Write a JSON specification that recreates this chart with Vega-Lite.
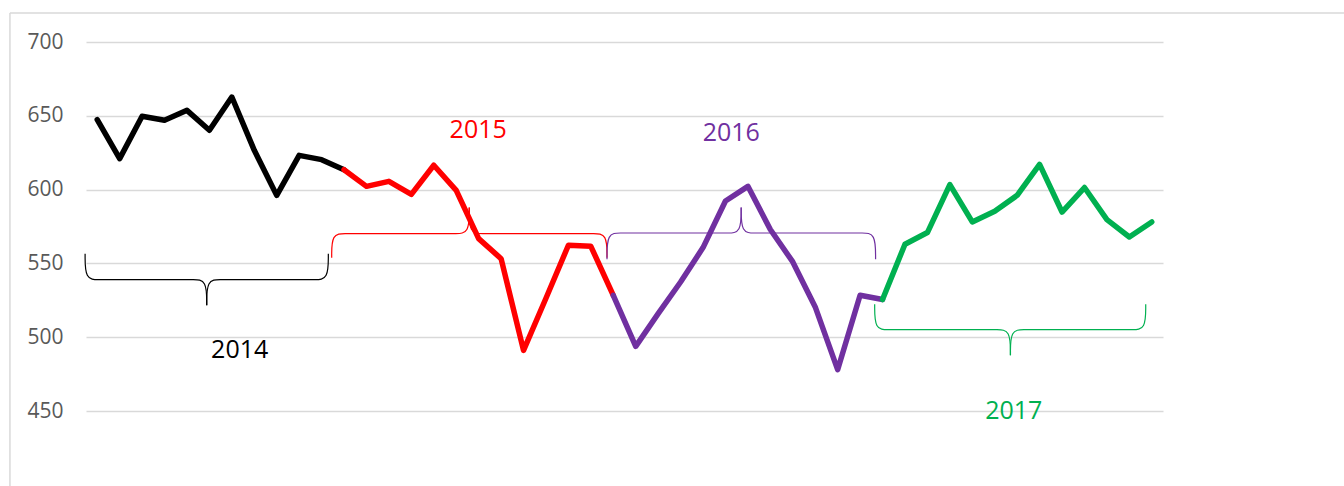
{
  "$schema": "https://vega.github.io/schema/vega-lite/v6.json",
  "width": 1077,
  "height": 369,
  "autosize": "none",
  "padding": {"left": 86, "right": 181, "top": 42, "bottom": 75},
  "background": "#ffffff",
  "config": {"view": {"stroke": null}, "font": "Open Sans"},
  "datasets": {
    "frame": [
      {"i": -3.89, "i2": -3.89, "v": 396, "v2": 719.6},
      {"i": -3.89, "i2": 56, "v": 719.6, "v2": 719.6}
    ],
    "series": [
      {"i": 0, "v": 647.4, "yr": "2014"}, {"i": 1, "v": 621, "yr": "2014"}, {"i": 2, "v": 649.7, "yr": "2014"},
      {"i": 3, "v": 647, "yr": "2014"}, {"i": 4, "v": 653.7, "yr": "2014"}, {"i": 5, "v": 640.2, "yr": "2014"},
      {"i": 6, "v": 662.7, "yr": "2014"}, {"i": 7, "v": 626.6, "yr": "2014"}, {"i": 8, "v": 596.1, "yr": "2014"},
      {"i": 9, "v": 623.2, "yr": "2014"}, {"i": 10, "v": 620.3, "yr": "2014"}, {"i": 11, "v": 613.5, "yr": "2014"},
      {"i": 11, "v": 613.5, "yr": "2015"}, {"i": 12, "v": 602.2, "yr": "2015"}, {"i": 13, "v": 605.6, "yr": "2015"},
      {"i": 14, "v": 596.8, "yr": "2015"}, {"i": 15, "v": 616.5, "yr": "2015"}, {"i": 16, "v": 599.5, "yr": "2015"},
      {"i": 17, "v": 566.8, "yr": "2015"}, {"i": 18, "v": 553.2, "yr": "2015"}, {"i": 19, "v": 491.1, "yr": "2015"},
      {"i": 20, "v": 526.4, "yr": "2015"}, {"i": 21, "v": 562.3, "yr": "2015"}, {"i": 22, "v": 561.6, "yr": "2015"},
      {"i": 23, "v": 528.4, "yr": "2015"},
      {"i": 23, "v": 528.4, "yr": "2016"}, {"i": 24, "v": 493.8, "yr": "2016"}, {"i": 25, "v": 516, "yr": "2016"},
      {"i": 26, "v": 537.4, "yr": "2016"}, {"i": 27, "v": 560.7, "yr": "2016"}, {"i": 28, "v": 592.3, "yr": "2016"},
      {"i": 29, "v": 602.2, "yr": "2016"}, {"i": 30, "v": 573, "yr": "2016"}, {"i": 31, "v": 551, "yr": "2016"},
      {"i": 32, "v": 520.5, "yr": "2016"}, {"i": 33, "v": 478, "yr": "2016"}, {"i": 34, "v": 528.4, "yr": "2016"},
      {"i": 35, "v": 525.5, "yr": "2016"},
      {"i": 35, "v": 525.5, "yr": "2017"}, {"i": 36, "v": 563, "yr": "2017"}, {"i": 37, "v": 570.9, "yr": "2017"},
      {"i": 38, "v": 603.4, "yr": "2017"}, {"i": 39, "v": 578.1, "yr": "2017"}, {"i": 40, "v": 585.3, "yr": "2017"},
      {"i": 41, "v": 596.1, "yr": "2017"}, {"i": 42, "v": 617.1, "yr": "2017"}, {"i": 43, "v": 584.8, "yr": "2017"},
      {"i": 44, "v": 601.4, "yr": "2017"}, {"i": 45, "v": 579.7, "yr": "2017"}, {"i": 46, "v": 567.9, "yr": "2017"},
      {"i": 47, "v": 578.1, "yr": "2017"}
    ],
    "braces": [
      {"h": "14L", "yr": "2014", "k": 0, "i": -0.54, "v": 556.6}, {"h": "14L", "yr": "2014", "k": 1, "i": -0.54, "v": 539},
      {"h": "14L", "yr": "2014", "k": 2, "i": 0.06, "v": 539}, {"h": "14L", "yr": "2014", "k": 3, "i": 0.66, "v": 539},
      {"h": "14L", "yr": "2014", "k": 4, "i": 3.68, "v": 539}, {"h": "14L", "yr": "2014", "k": 5, "i": 4.28, "v": 539},
      {"h": "14L", "yr": "2014", "k": 6, "i": 4.88, "v": 539}, {"h": "14L", "yr": "2014", "k": 7, "i": 4.88, "v": 521.6},
      {"h": "14R", "yr": "2014", "k": 0, "i": 10.3, "v": 556.6}, {"h": "14R", "yr": "2014", "k": 1, "i": 10.3, "v": 539},
      {"h": "14R", "yr": "2014", "k": 2, "i": 9.7, "v": 539}, {"h": "14R", "yr": "2014", "k": 3, "i": 9.1, "v": 539},
      {"h": "14R", "yr": "2014", "k": 4, "i": 6.08, "v": 539}, {"h": "14R", "yr": "2014", "k": 5, "i": 5.48, "v": 539},
      {"h": "14R", "yr": "2014", "k": 6, "i": 4.88, "v": 539}, {"h": "14R", "yr": "2014", "k": 7, "i": 4.88, "v": 521.6},
      {"h": "15L", "yr": "2015", "k": 0, "i": 10.45, "v": 553.9}, {"h": "15L", "yr": "2015", "k": 1, "i": 10.45, "v": 570.2},
      {"h": "15L", "yr": "2015", "k": 2, "i": 11.05, "v": 570.2}, {"h": "15L", "yr": "2015", "k": 3, "i": 11.65, "v": 570.2},
      {"h": "15L", "yr": "2015", "k": 4, "i": 15.38, "v": 570.2}, {"h": "15L", "yr": "2015", "k": 5, "i": 15.98, "v": 570.2},
      {"h": "15L", "yr": "2015", "k": 6, "i": 16.58, "v": 570.2}, {"h": "15L", "yr": "2015", "k": 7, "i": 16.58, "v": 587.8},
      {"h": "15R", "yr": "2015", "k": 0, "i": 22.72, "v": 553.9}, {"h": "15R", "yr": "2015", "k": 1, "i": 22.72, "v": 570.2},
      {"h": "15R", "yr": "2015", "k": 2, "i": 22.12, "v": 570.2}, {"h": "15R", "yr": "2015", "k": 3, "i": 21.52, "v": 570.2},
      {"h": "15R", "yr": "2015", "k": 4, "i": 17.78, "v": 570.2}, {"h": "15R", "yr": "2015", "k": 5, "i": 17.18, "v": 570.2},
      {"h": "15R", "yr": "2015", "k": 6, "i": 16.58, "v": 570.2}, {"h": "15R", "yr": "2015", "k": 7, "i": 16.58, "v": 587.8},
      {"h": "16L", "yr": "2016", "k": 0, "i": 22.72, "v": 552.8}, {"h": "16L", "yr": "2016", "k": 1, "i": 22.72, "v": 570.6},
      {"h": "16L", "yr": "2016", "k": 2, "i": 23.32, "v": 570.6}, {"h": "16L", "yr": "2016", "k": 3, "i": 23.92, "v": 570.6},
      {"h": "16L", "yr": "2016", "k": 4, "i": 27.5, "v": 570.6}, {"h": "16L", "yr": "2016", "k": 5, "i": 28.1, "v": 570.6},
      {"h": "16L", "yr": "2016", "k": 6, "i": 28.7, "v": 570.6}, {"h": "16L", "yr": "2016", "k": 7, "i": 28.7, "v": 587.8},
      {"h": "16R", "yr": "2016", "k": 0, "i": 34.69, "v": 552.8}, {"h": "16R", "yr": "2016", "k": 1, "i": 34.69, "v": 570.6},
      {"h": "16R", "yr": "2016", "k": 2, "i": 34.09, "v": 570.6}, {"h": "16R", "yr": "2016", "k": 3, "i": 33.49, "v": 570.6},
      {"h": "16R", "yr": "2016", "k": 4, "i": 29.9, "v": 570.6}, {"h": "16R", "yr": "2016", "k": 5, "i": 29.3, "v": 570.6},
      {"h": "16R", "yr": "2016", "k": 6, "i": 28.7, "v": 570.6}, {"h": "16R", "yr": "2016", "k": 7, "i": 28.7, "v": 587.8},
      {"h": "17L", "yr": "2017", "k": 0, "i": 34.65, "v": 522.3}, {"h": "17L", "yr": "2017", "k": 1, "i": 34.65, "v": 505.1},
      {"h": "17L", "yr": "2017", "k": 2, "i": 35.25, "v": 505.1}, {"h": "17L", "yr": "2017", "k": 3, "i": 35.85, "v": 505.1},
      {"h": "17L", "yr": "2017", "k": 4, "i": 39.5, "v": 505.1}, {"h": "17L", "yr": "2017", "k": 5, "i": 40.1, "v": 505.1},
      {"h": "17L", "yr": "2017", "k": 6, "i": 40.7, "v": 505.1}, {"h": "17L", "yr": "2017", "k": 7, "i": 40.7, "v": 487.7},
      {"h": "17R", "yr": "2017", "k": 0, "i": 46.73, "v": 522.3}, {"h": "17R", "yr": "2017", "k": 1, "i": 46.73, "v": 505.1},
      {"h": "17R", "yr": "2017", "k": 2, "i": 46.13, "v": 505.1}, {"h": "17R", "yr": "2017", "k": 3, "i": 45.53, "v": 505.1},
      {"h": "17R", "yr": "2017", "k": 4, "i": 41.9, "v": 505.1}, {"h": "17R", "yr": "2017", "k": 5, "i": 41.3, "v": 505.1},
      {"h": "17R", "yr": "2017", "k": 6, "i": 40.7, "v": 505.1}, {"h": "17R", "yr": "2017", "k": 7, "i": 40.7, "v": 487.7}
    ],
    "labels": [
      {"yr": "2014", "i": 6.35, "v": 491.3},
      {"yr": "2015", "i": 16.98, "v": 640.4},
      {"yr": "2016", "i": 28.26, "v": 638.4},
      {"yr": "2017", "i": 40.85, "v": 450}
    ]
  },
  "encoding": {
    "x": {"field": "i", "type": "quantitative", "scale": {"domain": [-0.5, 47.5], "nice": false, "zero": false}, "axis": null},
    "y": {"field": "v", "type": "quantitative", "scale": {"domain": [450, 700], "nice": false, "zero": false},
      "axis": {"values": [450, 500, 550, 600, 650, 700], "domain": false, "ticks": false, "title": null,
        "labelFont": "Open Sans", "labelFontSize": 21, "labelColor": "#595959", "labelPadding": 23,
        "gridColor": "#d9d9d9", "gridWidth": 1.5}}
  },
  "layer": [
    {
      "data": {"name": "frame"},
      "mark": {"type": "rule", "color": "#d9d9d9", "strokeWidth": 1.5, "clip": false},
      "encoding": {"x2": {"field": "i2"}, "y2": {"field": "v2"}}
    },
    {
      "data": {"name": "series"},
      "mark": {"type": "line", "strokeWidth": 5.5, "strokeCap": "round", "strokeJoin": "round"},
      "encoding": {
        "color": {"field": "yr", "type": "nominal", "legend": null,
          "scale": {"domain": ["2014", "2015", "2016", "2017"], "range": ["#000000", "#FF0000", "#7030A0", "#00B050"]}}
      }
    },
    {
      "data": {"name": "braces"},
      "mark": {"type": "line", "strokeWidth": 1.2, "interpolate": "basis"},
      "encoding": {
        "detail": {"field": "h"},
        "order": {"field": "k", "type": "quantitative"},
        "color": {"field": "yr", "type": "nominal", "legend": null}
      }
    },
    {
      "data": {"name": "labels"},
      "mark": {"type": "text", "font": "Open Sans", "fontSize": 25, "baseline": "middle", "align": "center"},
      "encoding": {
        "text": {"field": "yr"},
        "color": {"field": "yr", "type": "nominal", "legend": null}
      }
    }
  ]
}
